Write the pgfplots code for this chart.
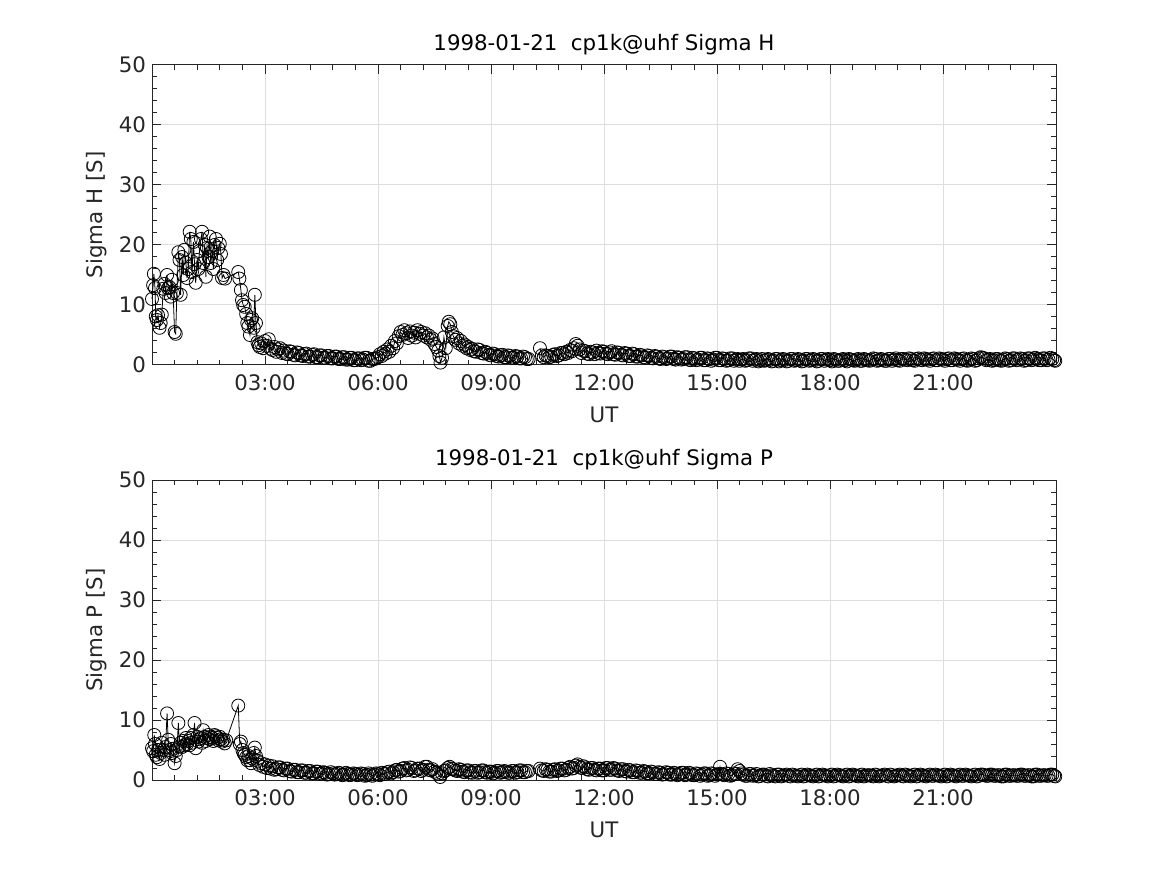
\documentclass[border=0pt]{standalone}
\usepackage{pgfplots}
\pgfplotsset{compat=1.18}
\usepackage{pgfplotstable}
\usepackage{fontspec}
\setmainfont{DejaVu Sans}
\definecolor{axc}{rgb}{0.15,0.15,0.15}
\definecolor{gridc}{rgb}{0.87,0.87,0.87}

\pgfplotstableread{
t v
0.00 11.0
0.03 13.3
0.05 15.2
0.08 12.8
0.10 8.1
0.13 7.5
0.16 8.3
0.20 6.2
0.23 7.0
0.26 8.4
0.30 12.7
0.33 13.5
0.36 12.0
0.40 15.0
0.43 12.8
0.46 13.0
0.50 11.4
0.53 14.2
0.56 12.0
0.60 5.5
0.63 5.2
0.66 12.0
0.70 18.8
0.73 17.5
0.76 11.7
0.80 18.0
0.83 15.0
0.86 19.2
0.90 17.0
0.93 14.5
0.96 16.0
1.00 22.2
1.03 21.0
1.06 15.5
1.10 20.5
1.13 16.8
1.16 13.7
1.20 17.5
1.23 16.0
1.26 19.0
1.30 21.0
1.33 22.2
1.36 17.0
1.40 20.0
1.43 14.7
1.46 19.5
1.50 18.0
1.53 21.4
1.56 17.0
1.60 19.0
1.63 16.0
1.66 20.0
1.70 21.0
1.73 17.5
1.76 19.5
1.80 20.2
1.83 18.5
1.86 14.5
1.90 15.0
1.94 14.4
2.29 15.5
2.32 14.4
2.36 12.5
2.39 10.8
2.42 10.0
2.46 9.7
2.50 8.5
2.53 7.0
2.56 6.4
2.60 5.0
2.63 7.5
2.66 7.8
2.70 6.2
2.73 11.7
2.76 7.0
2.80 3.8
2.83 3.3
2.86 3.0
2.90 3.6
2.95 2.8
3.00 4.0
3.05 3.2
3.10 4.3
3.15 2.7
3.20 2.5
3.25 3.0
3.30 2.2
3.35 2.6
3.40 2.8
3.45 2.0
3.50 2.4
3.55 1.9
3.60 1.8
3.65 2.3
3.70 2.2
3.75 1.7
3.80 1.6
3.85 2.1
3.90 2.0
3.95 1.6
4.00 1.5
4.05 1.8
4.10 1.9
4.15 1.4
4.20 1.4
4.25 1.7
4.30 1.8
4.35 1.3
4.40 1.3
4.45 1.6
4.50 1.6
4.55 1.2
4.60 1.2
4.65 1.5
4.70 1.5
4.75 1.1
4.80 1.1
4.85 1.4
4.90 1.4
4.95 1.0
5.00 1.0
5.05 1.3
5.10 1.3
5.15 0.9
5.20 0.9
5.25 1.2
5.30 1.2
5.35 0.8
5.40 0.8
5.45 1.1
5.50 1.1
5.55 0.8
5.60 0.9
5.65 1.2
5.70 1.2
5.75 0.7
5.80 0.7
5.85 1.0
5.90 1.0
5.95 1.1
6.00 1.3
6.05 1.8
6.10 1.5
6.15 2.2
6.20 1.9
6.25 2.6
6.30 2.2
6.35 3.2
6.40 2.8
6.45 4.0
6.50 3.6
6.55 4.8
6.60 5.5
6.65 5.0
6.70 5.8
6.75 5.3
6.80 4.5
6.85 5.6
6.90 4.9
6.95 5.4
7.00 4.6
7.05 5.8
7.10 5.2
7.15 5.5
7.20 4.9
7.25 5.3
7.30 4.6
7.35 4.9
7.40 4.2
7.45 4.4
7.50 3.5
7.55 3.0
7.60 2.4
7.63 1.5
7.66 0.4
7.70 1.2
7.75 4.6
7.80 2.8
7.85 6.5
7.88 7.2
7.92 6.8
7.96 5.5
8.00 4.8
8.05 4.2
8.10 4.5
8.15 3.6
8.20 4.0
8.25 3.2
8.30 3.4
8.35 2.8
8.40 3.0
8.45 2.5
8.50 2.7
8.55 2.3
8.60 2.2
8.65 2.6
8.70 2.5
8.75 2.0
8.80 1.9
8.85 2.2
8.90 2.0
8.95 1.7
9.00 1.6
9.05 1.9
9.10 1.8
9.15 1.5
9.20 1.4
9.25 1.6
9.30 1.7
9.35 1.3
9.40 1.3
9.45 1.6
9.50 1.5
9.55 1.2
9.60 1.2
9.65 1.5
9.70 1.4
9.75 1.1
9.80 1.1
9.85 1.4
9.90 1.3
9.95 1.0
10.00 1.0
10.10 nan
10.30 2.8
10.35 1.6
10.40 1.3
10.45 1.6
10.50 1.5
10.55 1.3
10.60 1.4
10.65 1.7
10.70 1.8
10.75 1.5
10.80 1.6
10.85 2.0
10.90 2.0
10.95 1.8
11.00 2.2
11.05 2.0
11.10 2.5
11.15 2.3
11.20 2.8
11.25 3.5
11.30 3.2
11.35 2.6
11.40 2.0
11.45 2.4
11.50 2.3
11.55 1.9
11.60 1.8
11.65 2.2
11.70 2.1
11.75 1.8
11.80 2.4
11.85 2.0
11.90 1.9
11.95 2.3
12.00 2.2
12.05 1.9
12.10 1.8
12.15 2.1
12.20 2.3
12.25 1.8
12.30 1.7
12.35 2.1
12.40 2.0
12.45 1.7
12.50 1.6
12.55 2.0
12.60 1.9
12.65 1.5
12.70 1.5
12.75 1.9
12.80 1.8
12.85 1.4
12.90 1.4
12.95 1.7
13.00 1.6
13.05 1.3
13.10 1.2
13.15 1.6
13.20 1.5
13.25 1.2
13.30 1.1
13.35 1.5
13.40 1.4
13.45 1.1
13.50 1.0
13.55 1.4
13.60 1.3
13.65 1.0
13.70 1.1
13.75 1.4
13.80 1.4
13.85 1.0
13.90 0.9
13.95 1.3
14.00 1.2
14.05 0.9
14.10 1.0
14.15 1.3
14.20 1.3
14.25 0.9
14.30 0.8
14.35 1.2
14.40 1.1
14.45 0.8
14.50 0.9
14.55 1.2
14.60 1.2
14.65 0.8
14.70 0.8
14.75 1.1
14.80 1.0
14.85 0.7
14.90 0.9
14.95 1.2
15.00 1.2
15.05 0.8
15.10 0.8
15.15 1.1
15.20 1.0
15.25 0.7
15.30 0.8
15.35 1.1
15.40 1.1
15.45 0.7
15.50 0.9
15.55 1.0
15.60 0.7
15.65 0.9
15.70 1.0
15.75 0.7
15.80 0.8
15.85 1.1
15.90 1.1
15.95 0.7
16.00 0.9
16.05 1.0
16.10 0.6
16.15 0.8
16.20 1.0
16.25 0.7
16.30 0.8
16.35 1.0
16.40 0.9
16.45 0.6
16.50 0.7
16.55 1.0
16.60 1.0
16.65 0.6
16.70 0.8
16.75 1.0
16.80 0.9
16.85 0.6
16.90 0.7
16.95 1.0
17.00 1.0
17.05 0.7
17.10 0.8
17.15 1.0
17.20 0.9
17.25 0.6
17.30 0.7
17.35 1.0
17.40 1.0
17.45 0.7
17.50 0.8
17.55 1.0
17.60 0.9
17.65 0.6
17.70 0.7
17.75 1.0
17.80 1.0
17.85 0.7
17.90 0.9
17.95 1.0
18.00 0.8
18.05 0.6
18.10 1.0
18.15 0.9
18.20 0.7
18.25 0.7
18.30 0.9
18.35 1.0
18.40 0.8
18.45 0.6
18.50 1.0
18.55 0.9
18.60 0.8
18.65 0.7
18.70 0.9
18.75 1.0
18.80 0.7
18.85 0.7
18.90 1.0
18.95 0.9
19.00 0.8
19.05 0.7
19.10 0.9
19.15 1.1
19.20 1.0
19.25 0.7
19.30 0.8
19.35 1.0
19.40 0.9
19.45 0.7
19.50 0.7
19.55 1.0
19.60 1.0
19.65 0.7
19.70 0.9
19.75 1.1
19.80 0.8
19.85 0.7
19.90 1.0
19.95 1.0
20.00 0.9
20.05 0.8
20.10 1.1
20.15 1.0
20.20 0.8
20.25 0.7
20.30 1.0
20.35 1.1
20.40 0.9
20.45 0.8
20.50 1.1
20.55 1.0
20.60 0.9
20.65 0.7
20.70 1.0
20.75 1.1
20.80 0.8
20.85 0.8
20.90 1.1
20.95 1.0
21.00 0.9
21.05 0.7
21.10 1.0
21.15 1.1
21.20 0.8
21.25 0.8
21.30 1.1
21.35 1.0
21.40 0.9
21.45 0.7
21.50 1.0
21.55 1.1
21.60 0.8
21.65 0.7
21.70 0.9
21.75 1.1
21.80 1.0
21.85 0.7
21.90 0.8
21.95 1.1
22.00 1.3
22.05 1.2
22.10 1.1
22.15 0.8
22.20 0.9
22.25 1.0
22.30 0.7
22.35 0.8
22.40 1.0
22.45 1.0
22.50 0.8
22.55 0.7
22.60 0.9
22.65 1.1
22.70 1.0
22.75 0.7
22.80 0.8
22.85 1.1
22.90 1.1
22.95 0.8
23.00 0.9
23.05 1.1
23.10 1.0
23.15 0.7
23.20 0.8
23.25 1.1
23.30 1.1
23.35 0.8
23.40 0.9
23.45 1.2
23.50 1.0
23.55 0.8
23.60 0.8
23.65 1.1
23.70 1.1
23.75 0.8
23.80 0.9
23.85 1.2
23.90 1.0
23.95 0.8
23.98 0.7
}\sigH

\pgfplotstableread{
t v
0.00 5.3
0.03 4.8
0.06 7.5
0.08 6.0
0.10 4.2
0.13 3.8
0.16 5.0
0.20 3.5
0.23 4.5
0.26 6.2
0.30 5.0
0.33 4.2
0.36 5.5
0.40 11.1
0.43 6.7
0.46 5.0
0.50 6.0
0.53 4.5
0.56 5.2
0.60 2.8
0.63 4.0
0.66 5.0
0.70 9.5
0.73 5.6
0.76 6.2
0.80 5.5
0.83 6.5
0.86 5.8
0.90 7.0
0.93 6.0
0.96 6.5
1.00 5.8
1.03 7.0
1.06 6.2
1.10 7.5
1.13 9.5
1.16 5.3
1.20 7.2
1.23 6.4
1.26 6.8
1.30 7.0
1.33 6.2
1.36 8.3
1.40 7.2
1.43 6.5
1.46 7.0
1.50 7.5
1.53 6.8
1.56 7.2
1.60 7.0
1.63 6.5
1.66 7.5
1.70 7.3
1.73 7.0
1.76 6.6
1.80 7.2
1.83 6.8
1.86 6.4
1.90 6.7
1.93 6.1
1.97 6.6
2.29 12.4
2.33 6.0
2.36 6.4
2.40 5.0
2.43 4.5
2.46 4.2
2.50 3.8
2.53 3.3
2.56 4.0
2.60 3.3
2.63 2.8
2.66 3.6
2.70 4.5
2.73 5.4
2.76 4.0
2.80 3.2
2.85 2.5
2.90 2.8
2.95 2.2
3.00 2.6
3.05 2.0
3.10 2.4
3.15 1.9
3.20 2.3
3.25 1.7
3.30 1.8
3.35 2.1
3.40 2.1
3.45 1.7
3.50 1.6
3.55 1.9
3.60 1.9
3.65 1.5
3.70 1.4
3.75 1.7
3.80 1.7
3.85 1.3
3.90 1.3
3.95 1.6
4.00 1.6
4.05 1.2
4.10 1.2
4.15 1.5
4.20 1.5
4.25 1.1
4.30 1.1
4.35 1.4
4.40 1.4
4.45 1.0
4.50 1.1
4.55 1.3
4.60 1.2
4.65 0.9
4.70 1.0
4.75 1.3
4.80 1.1
4.85 0.9
4.90 1.0
4.95 1.2
5.00 1.1
5.05 0.8
5.10 0.9
5.15 1.2
5.20 1.0
5.25 0.8
5.30 0.9
5.35 1.1
5.40 1.0
5.45 0.8
5.50 0.9
5.55 1.1
5.60 1.0
5.65 0.7
5.70 0.8
5.75 1.1
5.80 0.9
5.85 0.7
5.90 0.9
5.95 1.1
6.00 1.0
6.05 0.8
6.10 1.2
6.15 1.0
6.20 1.0
6.25 1.3
6.30 1.4
6.35 1.1
6.40 1.3
6.45 1.6
6.50 1.7
6.55 1.4
6.60 1.5
6.65 1.9
6.70 2.0
6.75 1.6
6.80 1.7
6.85 2.1
6.90 2.0
6.95 1.5
7.00 1.6
7.05 1.9
7.10 1.9
7.15 1.5
7.20 1.7
7.25 2.2
7.30 2.2
7.35 1.7
7.40 1.6
7.45 1.8
7.50 1.4
7.55 1.2
7.60 1.0
7.65 0.5
7.70 1.1
7.75 1.5
7.80 1.6
7.85 2.0
7.90 2.2
7.95 1.9
8.00 1.8
8.05 1.6
8.10 1.5
8.15 1.8
8.20 1.7
8.25 1.4
8.30 1.3
8.35 1.6
8.40 1.6
8.45 1.3
8.50 1.2
8.55 1.5
8.60 1.5
8.65 1.2
8.70 1.3
8.75 1.6
8.80 1.6
8.85 1.3
8.90 1.2
8.95 1.4
9.00 1.4
9.05 1.1
9.10 1.2
9.15 1.5
9.20 1.5
9.25 1.2
9.30 1.3
9.35 1.5
9.40 1.4
9.45 1.2
9.50 1.2
9.55 1.5
9.60 1.5
9.65 1.2
9.70 1.3
9.75 1.6
9.80 1.6
9.85 1.3
9.90 1.3
9.95 1.5
10.00 1.5
10.10 nan
10.30 1.9
10.35 1.6
10.40 1.5
10.45 1.8
10.50 1.7
10.55 1.4
10.60 1.4
10.65 1.7
10.70 1.8
10.75 1.5
10.80 1.6
10.85 1.9
10.90 1.9
10.95 1.6
11.00 1.7
11.05 2.0
11.10 2.2
11.15 1.9
11.20 2.0
11.25 2.4
11.30 2.6
11.35 2.2
11.40 2.0
11.45 2.3
11.50 2.1
11.55 1.8
11.60 1.7
11.65 2.0
11.70 2.0
11.75 1.7
11.80 1.6
11.85 1.9
11.90 1.9
11.95 1.6
12.00 1.6
12.05 2.0
12.10 2.0
12.15 1.7
12.20 1.7
12.25 2.0
12.30 1.9
12.35 1.6
12.40 1.5
12.45 1.8
12.50 1.8
12.55 1.5
12.60 1.4
12.65 1.7
12.70 1.6
12.75 1.3
12.80 1.3
12.85 1.6
12.90 1.5
12.95 1.2
13.00 1.2
13.05 1.5
13.10 1.4
13.15 1.1
13.20 1.1
13.25 1.4
13.30 1.3
13.35 1.0
13.40 1.0
13.45 1.3
13.50 1.2
13.55 0.9
13.60 1.0
13.65 1.3
13.70 1.2
13.75 0.9
13.80 0.9
13.85 1.2
13.90 1.1
13.95 0.8
14.00 1.0
14.05 1.2
14.10 1.2
14.15 0.8
14.20 0.9
14.25 1.2
14.30 1.1
14.35 0.8
14.40 0.8
14.45 1.1
14.50 1.0
14.55 0.7
14.60 0.9
14.65 1.1
14.70 1.1
14.75 0.7
14.80 0.8
14.85 1.1
14.90 1.0
14.95 0.7
15.00 0.9
15.04 1.0
15.08 2.2
15.12 1.0
15.15 0.9
15.20 0.8
15.25 1.1
15.30 1.0
15.35 0.7
15.40 0.8
15.45 1.1
15.50 1.0
15.55 1.8
15.60 1.5
15.65 1.1
15.70 0.9
15.75 0.7
15.80 0.7
15.85 1.0
15.90 1.0
15.95 0.7
16.00 0.8
16.05 1.0
16.10 0.6
16.15 0.7
16.20 0.9
16.25 0.9
16.30 0.7
16.35 0.6
16.40 1.0
16.45 0.8
16.50 0.7
16.55 0.6
16.60 0.9
16.65 0.9
16.70 0.6
16.75 0.7
16.80 0.8
16.85 0.9
16.90 0.7
16.95 0.6
17.00 0.9
17.05 0.8
17.10 0.7
17.15 0.6
17.20 0.8
17.25 0.9
17.30 0.6
17.35 0.7
17.40 0.9
17.45 0.8
17.50 0.7
17.55 0.6
17.60 0.8
17.65 0.9
17.70 0.6
17.75 0.7
17.80 0.9
17.85 0.8
17.90 0.7
17.95 0.6
18.00 0.8
18.05 0.9
18.10 0.6
18.15 0.7
18.20 0.9
18.25 0.8
18.30 0.7
18.35 0.6
18.40 0.8
18.45 0.9
18.50 0.6
18.55 0.7
18.60 0.9
18.65 0.8
18.70 0.7
18.75 0.6
18.80 0.8
18.85 0.9
18.90 0.6
18.95 0.7
19.00 0.8
19.05 0.8
19.10 0.7
19.15 0.6
19.20 0.9
19.25 0.8
19.30 0.6
19.35 0.7
19.40 0.8
19.45 0.9
19.50 0.7
19.55 0.6
19.60 0.9
19.65 0.8
19.70 0.6
19.75 0.7
19.80 0.8
19.85 0.9
19.90 0.7
19.95 0.6
20.00 0.9
20.05 0.8
20.10 0.7
20.15 0.6
20.20 0.8
20.25 0.9
20.30 0.6
20.35 0.7
20.40 0.9
20.45 0.8
20.50 0.7
20.55 0.6
20.60 0.8
20.65 0.9
20.70 0.7
20.75 0.7
20.80 0.9
20.85 0.8
20.90 0.7
20.95 0.6
21.00 0.8
21.05 0.9
21.10 0.6
21.15 0.7
21.20 0.9
21.25 0.8
21.30 0.7
21.35 0.6
21.40 0.8
21.45 0.9
21.50 0.7
21.55 0.7
21.60 0.9
21.65 0.8
21.70 0.7
21.75 0.6
21.80 0.8
21.85 0.9
21.90 0.6
21.95 0.7
22.00 0.9
22.05 0.9
22.10 0.8
22.15 0.7
22.20 0.7
22.25 0.9
22.30 0.9
22.35 0.7
22.40 0.7
22.45 0.8
22.50 0.8
22.55 0.6
22.60 0.6
22.65 0.9
22.70 0.9
22.75 0.7
22.80 0.7
22.85 0.8
22.90 0.8
22.95 0.7
23.00 0.7
23.05 0.9
23.10 0.9
23.15 0.7
23.20 0.7
23.25 0.8
23.30 0.8
23.35 0.6
23.40 0.6
23.45 0.9
23.50 0.9
23.55 0.7
23.60 0.7
23.65 0.8
23.70 0.8
23.75 0.7
23.80 0.7
23.85 0.9
23.90 0.9
23.95 0.7
23.98 0.6
}\sigP

\pgfplotsset{
  mstyle/.style={
    scale only axis, width=678pt, height=225pt,
    xmin=0, xmax=24, ymin=0, ymax=50,
    xtick={0,3,...,24},
    xticklabels={,03:00,06:00,09:00,12:00,15:00,18:00,21:00,},
    ytick={0,10,...,50},
    minor x tick num=4, minor y tick num=4,
    grid=major,
    major grid style={color=gridc, line width=0.75pt},
    tick align=inside,
    major tick length=7pt, minor tick length=3.5pt,
    axis line style={color=axc, line width=0.75pt},
    every tick/.append style={color=axc, line width=0.75pt},
    tick label style={font=\fontsize{16}{19}\selectfont, text=axc},
    /pgf/number format/assume math mode=true,
    xticklabel style={yshift=-4pt},
    yticklabel style={xshift=-1pt},
    every axis title shift=0pt,
    title style={font=\fontsize{16}{19}\selectfont, text=black, at={(axis description cs:0.5,1.0667)}, anchor=center},
    every axis y label/.style={at={(axis description cs:-0.0608,0.5)}, rotate=90, anchor=center, font=\fontsize{16}{19}\selectfont, text=axc},
    every axis x label/.style={at={(axis description cs:0.5,-0.1667)}, anchor=center, font=\fontsize{16}{19}\selectfont, text=axc},
    unbounded coords=jump,
    clip=false,
  },
  dstyle/.style={black, line width=0.6pt, mark=o, mark size=4.9pt, mark options={solid, line width=0.6pt}},
}

\begin{document}
\begin{tikzpicture}
\useasboundingbox (0,0) rectangle (875.25pt,656.25pt);
\begin{axis}[mstyle, at={(114pt,382.5pt)}, anchor=south west,
  title={1998-01-21\ \ cp1k@uhf Sigma H}, xlabel={UT}, ylabel={Sigma H [S]}]
\addplot[dstyle] table[x=t, y=v] {\sigH};
\end{axis}
\begin{axis}[mstyle, at={(114pt,71.25pt)}, anchor=south west,
  title={1998-01-21\ \ cp1k@uhf Sigma P}, xlabel={UT}, ylabel={Sigma P [S]}]
\addplot[dstyle] table[x=t, y=v] {\sigP};
\end{axis}
\end{tikzpicture}
\end{document}
